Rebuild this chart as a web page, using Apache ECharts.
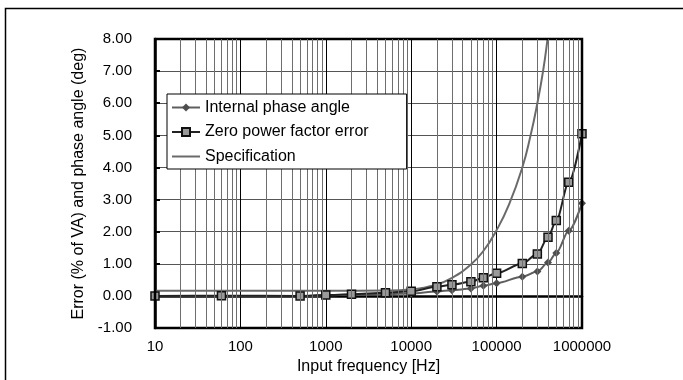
<!DOCTYPE html>
<html>
<head>
<meta charset="utf-8">
<script src="https://cdn.jsdelivr.net/npm/echarts@6/dist/echarts.min.js"></script>
<style>
html,body{margin:0;padding:0;background:#fff;}
#chart{width:683px;height:380px;}
</style>
</head>
<body>
<div id="chart"></div>
<script>
// Data
const freq = [10, 60, 500, 1000, 2000, 5000, 10000, 20000, 30000, 50000, 70000, 100000, 200000, 300000, 400000, 500000, 700000, 1000000];
const internalPhase = [-0.01, 0.00, -0.01, 0.02, 0.04, 0.06, 0.08, 0.14, 0.18, 0.23, 0.32, 0.40, 0.60, 0.76, 1.04, 1.34, 2.03, 2.89];
const zeroPF = [0.00, 0.01, 0.00, 0.03, 0.05, 0.10, 0.15, 0.29, 0.35, 0.44, 0.57, 0.71, 1.01, 1.31, 1.83, 2.35, 3.54, 5.05];
const specFreq = [10, 1000, 5000, 10000, 20000, 30000, 50000, 70000, 100000, 140000, 200000, 250000, 300000, 350000, 400000, 450000];
const specVal = [0.16, 0.16, 0.17, 0.21, 0.36, 0.56, 0.98, 1.4, 2.05, 2.85, 4.0, 5.0, 6.0, 7.0, 8.1, 9.1];
const seriesNames = ['Internal phase angle', 'Zero power factor error', 'Specification'];
const xDecades = [10, 100, 1000, 10000, 100000, 1000000];

const minorGrid = [];
for (let i = 0; i < xDecades.length - 1; i++) {
  for (let k = 2; k <= 9; k++) minorGrid.push({ xAxis: xDecades[i] * k });
}

const pair = (xs, ys) => xs.map((x, i) => [x, ys[i]]);

const chart = echarts.init(document.getElementById('chart'), null, { renderer: 'canvas' });
chart.setOption({
  animation: false,
  backgroundColor: '#fff',
  textStyle: { fontFamily: 'Liberation Sans, Arial, sans-serif' },
  graphic: [{
    type: 'rect', left: 3, top: 6, z: 0,
    shape: { width: 720, height: 420 },
    style: { fill: 'none', stroke: '#000', lineWidth: 1.5 }
  }],
  grid: { left: 155, right: 101, top: 39, bottom: 49, show: true, borderColor: '#000', borderWidth: 2.5, backgroundColor: 'transparent', z: 5 },
  legend: {
    orient: 'vertical', left: 167, top: 94,
    data: [
      { name: seriesNames[0] },
      { name: seriesNames[1] },
      { name: seriesNames[2], itemStyle: { opacity: 0 } }
    ],
    itemWidth: 28, itemHeight: 10, itemGap: 7.5,
    padding: [5, 38, 4, 4],
    backgroundColor: '#fff', borderColor: '#000', borderWidth: 1, borderRadius: 0,
    textStyle: { fontSize: 16, color: '#000', fontFamily: 'Liberation Sans, Arial, sans-serif', lineHeight: 17 },
    z: 10
  },
  xAxis: {
    type: 'log', logBase: 10, min: 10, max: 1000000,
    name: 'Input frequency [Hz]', nameLocation: 'middle', nameGap: 29,
    nameTextStyle: { fontSize: 16, color: '#000' },
    axisLine: { show: true, lineStyle: { color: '#000', width: 2.5 } },
    axisTick: { show: false },
    axisLabel: { fontSize: 15, color: '#000', margin: 11, formatter: v => String(Math.round(v)) },
    splitLine: { show: true, lineStyle: { color: '#000', width: 1 } }
  },
  yAxis: {
    type: 'value', min: -1, max: 8, interval: 1,
    name: 'Error (% of VA) and phase angle (deg)', nameLocation: 'middle', nameGap: 66,
    nameTextStyle: { fontSize: 16, color: '#000' },
    axisLine: { show: true, lineStyle: { color: '#000', width: 2.5 } },
    axisTick: { show: true, inside: true, length: 5, lineStyle: { color: '#000', width: 2 } },
    axisLabel: { fontSize: 15, color: '#000', margin: 23, formatter: v => v.toFixed(2) },
    splitLine: { show: true, lineStyle: { color: '#555', width: 1 } }
  },
  series: [
    {
      name: '_minor', type: 'line', data: [], silent: true, z: 1,
      markLine: {
        silent: true, symbol: ['none', 'none'], animation: false,
        label: { show: false },
        lineStyle: { color: '#6e6e6e', width: 1, type: 'solid' },
        emphasis: { disabled: true },
        data: minorGrid
      }
    },
    {
      name: seriesNames[2], type: 'line', data: pair(specFreq, specVal),
      symbol: 'none', smooth: true, clip: true, z: 3,
      lineStyle: { color: '#6a6a6a', width: 2 }, itemStyle: { color: '#6a6a6a' }
    },
    {
      name: seriesNames[0], type: 'line', data: pair(freq, internalPhase),
      symbol: 'diamond', symbolSize: 8, smooth: 0.3, smoothMonotone: 'x', z: 4,
      lineStyle: { color: '#5e5e5e', width: 2 }, itemStyle: { color: '#4e4e4e' }
    },
    {
      name: seriesNames[1], type: 'line', data: pair(freq, zeroPF),
      symbol: 'rect', symbolSize: 8, smooth: 0.3, smoothMonotone: 'x', z: 4,
      lineStyle: { color: '#222', width: 2 },
      itemStyle: { color: '#9a9a9a', borderColor: '#111', borderWidth: 1.5 }
    }
  ]
});
</script>
</body>
</html>
